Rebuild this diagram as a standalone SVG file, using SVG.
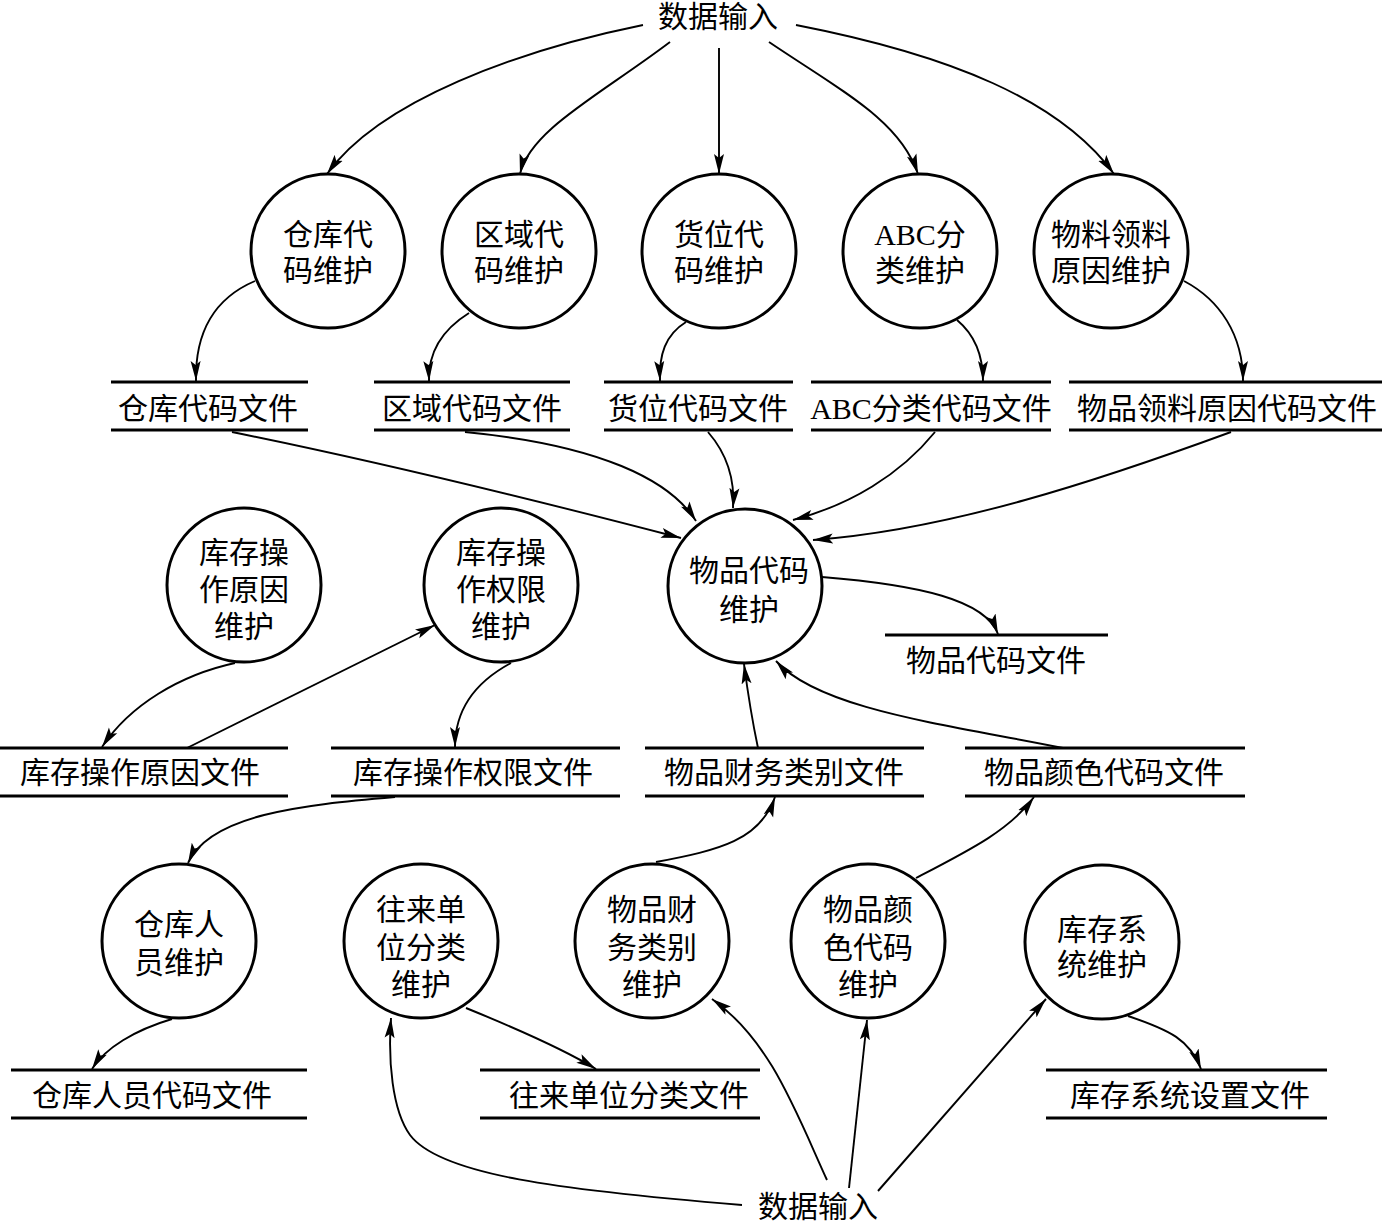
<svg xmlns="http://www.w3.org/2000/svg" width="1384" height="1225" viewBox="0 0 1384 1225">
<style>
.c{fill:#fff;stroke:#000;stroke-width:3}
.s{stroke:#000;stroke-width:3.2}
.t{font-family:"Liberation Serif","Noto Sans CJK SC",serif;font-size:30px;fill:#000;text-anchor:middle}
.e{fill:none;stroke:#000;stroke-width:1.9}
</style>
<defs>
<marker id="a" markerUnits="userSpaceOnUse" markerWidth="22" markerHeight="11" refX="20" refY="5.5" orient="auto">
<path d="M0,0.5 L20,5.5 L0,10.5 L4,5.5 z" fill="#000"/>
</marker>
</defs>
<rect width="1384" height="1225" fill="#fff"/>

<g id="input-top"><text class="t" x="718" y="27">数据输入</text></g>
<g id="input-bottom"><text class="t" x="818" y="1217">数据输入</text></g>

<g id="p-warehouse"><circle class="c" cx="328" cy="251" r="77"/><text class="t" x="328" y="245">仓库代</text><text class="t" x="328" y="281">码维护</text></g>
<g id="p-area"><circle class="c" cx="519" cy="251" r="77"/><text class="t" x="519" y="245">区域代</text><text class="t" x="519" y="281">码维护</text></g>
<g id="p-location"><circle class="c" cx="719" cy="251" r="77"/><text class="t" x="719" y="245">货位代</text><text class="t" x="719" y="281">码维护</text></g>
<g id="p-abc"><circle class="c" cx="920" cy="251" r="77"/><text class="t" x="920" y="245">ABC分</text><text class="t" x="920" y="281">类维护</text></g>
<g id="p-reason"><circle class="c" cx="1111" cy="251" r="77"/><text class="t" x="1111" y="245">物料领料</text><text class="t" x="1111" y="281">原因维护</text></g>

<g id="f-warehouse"><line class="s" x1="111" y1="382" x2="308" y2="382"/><line class="s" x1="111" y1="430" x2="308" y2="430"/><text class="t" x="208" y="419">仓库代码文件</text></g>
<g id="f-area"><line class="s" x1="374" y1="382" x2="570" y2="382"/><line class="s" x1="374" y1="430" x2="570" y2="430"/><text class="t" x="472" y="419">区域代码文件</text></g>
<g id="f-location"><line class="s" x1="604" y1="382" x2="793" y2="382"/><line class="s" x1="604" y1="430" x2="793" y2="430"/><text class="t" x="698" y="419">货位代码文件</text></g>
<g id="f-abc"><line class="s" x1="811" y1="382" x2="1051" y2="382"/><line class="s" x1="811" y1="430" x2="1051" y2="430"/><text class="t" x="931" y="419">ABC分类代码文件</text></g>
<g id="f-reason"><line class="s" x1="1069" y1="382" x2="1382" y2="382"/><line class="s" x1="1069" y1="430" x2="1382" y2="430"/><text class="t" x="1227" y="419">物品领料原因代码文件</text></g>

<g id="p-item"><circle class="c" cx="745" cy="586" r="77"/><text class="t" x="749" y="581">物品代码</text><text class="t" x="749" y="620">维护</text></g>
<g id="f-item"><line class="s" x1="885" y1="635" x2="1108" y2="635"/><text class="t" x="996" y="671">物品代码文件</text></g>

<g id="p-opreason"><circle class="c" cx="244" cy="585" r="77"/><text class="t" x="244" y="563">库存操</text><text class="t" x="244" y="600">作原因</text><text class="t" x="244" y="637">维护</text></g>
<g id="p-opright"><circle class="c" cx="501" cy="585" r="77"/><text class="t" x="501" y="563">库存操</text><text class="t" x="501" y="600">作权限</text><text class="t" x="501" y="637">维护</text></g>

<g id="f-opreason"><line class="s" x1="0" y1="748" x2="288" y2="748"/><line class="s" x1="0" y1="796" x2="288" y2="796"/><text class="t" x="140" y="783">库存操作原因文件</text></g>
<g id="f-opright"><line class="s" x1="331" y1="748" x2="620" y2="748"/><line class="s" x1="331" y1="796" x2="620" y2="796"/><text class="t" x="473" y="783">库存操作权限文件</text></g>
<g id="f-finance"><line class="s" x1="645" y1="748" x2="924" y2="748"/><line class="s" x1="645" y1="796" x2="924" y2="796"/><text class="t" x="784" y="783">物品财务类别文件</text></g>
<g id="f-color"><line class="s" x1="965" y1="748" x2="1245" y2="748"/><line class="s" x1="965" y1="796" x2="1245" y2="796"/><text class="t" x="1104" y="783">物品颜色代码文件</text></g>

<g id="p-staff"><circle class="c" cx="179" cy="941" r="77"/><text class="t" x="179" y="935">仓库人</text><text class="t" x="179" y="973">员维护</text></g>
<g id="p-partner"><circle class="c" cx="421" cy="941" r="77"/><text class="t" x="421" y="920">往来单</text><text class="t" x="421" y="958">位分类</text><text class="t" x="421" y="995">维护</text></g>
<g id="p-finance"><circle class="c" cx="652" cy="941" r="77"/><text class="t" x="652" y="920">物品财</text><text class="t" x="652" y="958">务类别</text><text class="t" x="652" y="995">维护</text></g>
<g id="p-color"><circle class="c" cx="868" cy="941" r="77"/><text class="t" x="868" y="920">物品颜</text><text class="t" x="868" y="958">色代码</text><text class="t" x="868" y="995">维护</text></g>
<g id="p-system"><circle class="c" cx="1102" cy="942" r="77"/><text class="t" x="1102" y="940">库存系</text><text class="t" x="1102" y="975">统维护</text></g>

<g id="f-staff"><line class="s" x1="11" y1="1070" x2="307" y2="1070"/><line class="s" x1="11" y1="1118" x2="307" y2="1118"/><text class="t" x="152" y="1106">仓库人员代码文件</text></g>
<g id="f-partner"><line class="s" x1="480" y1="1070" x2="760" y2="1070"/><line class="s" x1="480" y1="1118" x2="760" y2="1118"/><text class="t" x="629" y="1106">往来单位分类文件</text></g>
<g id="f-system"><line class="s" x1="1046" y1="1070" x2="1327" y2="1070"/><line class="s" x1="1046" y1="1118" x2="1327" y2="1118"/><text class="t" x="1190" y="1106">库存系统设置文件</text></g>

<g id="connectors" marker-end="url(#a)">
<path class="e" d="M643,25 C520,50 380,100 327,174"/>
<path class="e" d="M670,42 C600,95 530,130 520,174"/>
<path class="e" d="M719,48 L719,174"/>
<path class="e" d="M769,42 C840,90 900,120 918,174"/>
<path class="e" d="M796,25 C950,55 1060,100 1114,174"/>

<path class="e" d="M255,281 C215,298 195,330 196,381"/>
<path class="e" d="M469,313 C445,328 428,350 429,381"/>
<path class="e" d="M686,322 C665,335 659,355 660,381"/>
<path class="e" d="M957,320 C975,335 983,355 983,381"/>
<path class="e" d="M1184,281 C1220,300 1243,335 1243,381"/>

<path class="e" d="M232,432 Q420,470 681,538"/>
<path class="e" d="M465,432 C600,445 670,480 696,521"/>
<path class="e" d="M708,432 C728,455 735,480 733,508"/>
<path class="e" d="M935,432 C900,475 850,505 793,520"/>
<path class="e" d="M1231,432 C1100,480 950,530 813,540"/>

<path class="e" d="M822,577 C920,585 985,600 998,634"/>

<path class="e" d="M235,663 C180,675 130,705 102,747"/>
<path class="e" d="M187,748 L435,625"/>
<path class="e" d="M511,663 C470,685 455,715 455,747"/>
<path class="e" d="M395,797 C300,805 210,815 188,863"/>

<path class="e" d="M758,748 Q750,710 744,664"/>
<path class="e" d="M1063,748 C950,725 820,710 776,661"/>
<path class="e" d="M656,862 C720,850 760,840 775,797"/>
<path class="e" d="M916,878 C970,850 1010,830 1034,797"/>

<path class="e" d="M172,1019 C135,1030 105,1048 92,1069"/>
<path class="e" d="M466,1008 C520,1030 565,1050 596,1069"/>
<path class="e" d="M1128,1016 C1170,1030 1190,1040 1201,1069"/>

<path class="e" d="M742,1205 C560,1190 440,1175 410,1135 C392,1110 388,1060 391,1018"/>
<path class="e" d="M827,1180 C795,1110 770,1040 712,999"/>
<path class="e" d="M849,1188 L867,1020"/>
<path class="e" d="M878,1191 L1046,999"/>
</g>
</svg>
